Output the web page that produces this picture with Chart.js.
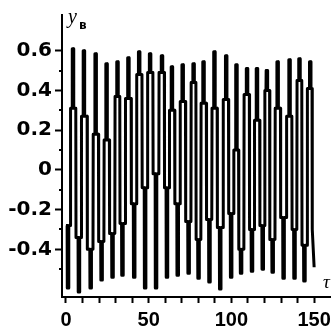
<!DOCTYPE html>
<html>
<head>
<meta charset="utf-8">
<script src="https://cdn.jsdelivr.net/npm/chart.js@4"></script>
<style>
  html, body { margin: 0; padding: 0; background: #fff; }
  #wrap { width: 336px; height: 331px; }
</style>
</head>
<body>
<div id="wrap"><canvas id="plot"></canvas></div>
<script>
// times (tau) and levels
const peakT = [4.2, 10.8, 17.9, 24.5, 31.1, 37.7, 44.2, 50.8, 58.0, 64.0, 70.5, 77.1,
  83.1, 89.7, 96.8, 103.0, 109.4, 115.4, 121.4, 127.9, 135.1, 141.1, 147.6];
const peakY = [0.61, 0.60, 0.585, 0.535, 0.545, 0.565, 0.595, 0.585, 0.575, 0.52, 0.53, 0.535,
  0.545, 0.595, 0.575, 0.53, 0.51, 0.51, 0.50, 0.545, 0.555, 0.56, 0.545];
const archY = [0.31, 0.27, 0.18, 0.15, 0.37, 0.36, 0.48, 0.49, 0.49, 0.30, 0.345, 0.44,
  0.335, 0.31, 0.355, 0.10, 0.38, 0.25, 0.40, 0.31, 0.27, 0.45, 0.41];
const botT = [1.2, 7.8, 14.9, 21.5, 28.1, 34.1, 41.2, 47.8, 54.4, 61.0, 67.5, 74.1,
  80.1, 86.7, 93.2, 99.8, 105.8, 112.4, 118.9, 124.9, 131.5, 138.1, 144.1, 150.0];
const botY = [-0.595, -0.615, -0.595, -0.555, -0.54, -0.53, -0.54, -0.595, -0.595, -0.54, -0.53, -0.52,
  -0.545, -0.565, -0.6, -0.54, -0.52, -0.51, -0.5, -0.515, -0.545, -0.545, -0.56, -0.49];
const troughY = [-0.28, -0.34, -0.40, -0.36, -0.32, -0.27, -0.17, -0.09, -0.02, -0.09, -0.17, -0.26,
  -0.35, -0.25, -0.29, -0.22, -0.40, -0.30, -0.28, -0.35, -0.24, -0.30, -0.38, -0.30];

const xTicks = [0, 10, 20, 30, 40, 50, 60, 70, 80, 90, 100, 110, 120, 130, 140, 150];
const xLabels = [0, 50, 100, 150];
const yTicks = [-0.5, -0.4, -0.3, -0.2, -0.1, 0, 0.1, 0.2, 0.3, 0.4, 0.5, 0.6];
const yLabels = [-0.4, -0.2, 0, 0.2, 0.4, 0.6];

// curve: down spike out of the trough level, up stroke, shoulder, up spike, down stroke
const pts = [{x: 0, y: troughY[0]}];
for (let i = 0; i < botT.length; i++) {
  const tb = botT[i];
  if (i === botT.length - 1) {
    pts.push({x: tb, y: botY[i]});
    break;
  }
  pts.push({x: tb - 0.5, y: troughY[i]});
  pts.push({x: tb - 0.4, y: botY[i]});
  pts.push({x: tb + 0.4, y: botY[i]});
  pts.push({x: tb + 0.5, y: troughY[i]});
  const tp = peakT[i];
  const up = (tb + tp) / 2, down = (tp + botT[i + 1]) / 2;
  pts.push({x: up - 0.07, y: troughY[i]});
  pts.push({x: up + 0.07, y: archY[i]});
  pts.push({x: tp - 0.5, y: archY[i]});
  pts.push({x: tp - 0.4, y: peakY[i]});
  pts.push({x: tp + 0.4, y: peakY[i]});
  pts.push({x: tp + 0.5, y: archY[i]});
  pts.push({x: down - 0.07, y: archY[i]});
  pts.push({x: down + 0.07, y: troughY[i + 1]});
}

const near = (a, b) => Math.abs(a - b) < 1e-6;

// y_в at the top of the vertical axis, tau at the end of the horizontal one
const axisNames = {
  id: 'axisNames',
  afterDraw(chart) {
    const c = chart.ctx;
    c.save();
    c.fillStyle = '#000';
    c.textBaseline = 'alphabetic';
    c.font = "italic 20px 'Liberation Serif', serif";
    c.fillText('y', 68, 23);
    c.font = "bold 12px 'DejaVu Sans', sans-serif";
    c.fillText('в', 79, 29);
    c.font = "italic 19px 'Liberation Serif', serif";
    c.fillText('τ', 323, 288);
    c.restore();
  }
};

const minorTicks = {
  id: 'minorTicks',
  afterDraw(chart) {
    const y = chart.scales.y, c = chart.ctx;
    c.save();
    c.strokeStyle = '#000';
    c.lineWidth = 2;
    yTicks.filter(v => !yLabels.some(l => near(l, v))).forEach(v => {
      const py = Math.round(y.getPixelForValue(v));
      c.beginPath();
      c.moveTo(y.right - 3, py);
      c.lineTo(y.right, py);
      c.stroke();
    });
    c.restore();
  }
};

new Chart(document.getElementById('plot'), {
  type: 'line',
  data: {
    datasets: [{
      data: pts,
      borderColor: '#000',
      borderWidth: 3,
      borderJoinStyle: 'round',
      pointRadius: 0,
      tension: 0,
      fill: false
    }]
  },
  options: {
    responsive: true,
    maintainAspectRatio: false,
    animation: false,
    layout: {padding: {top: 13, right: 3, left: 0, bottom: 0}},
    plugins: {legend: {display: false}, tooltip: {enabled: false}},
    scales: {
      x: {
        type: 'linear',
        min: -2.4,
        max: 159.6,
        afterBuildTicks: s => { s.ticks = xTicks.map(v => ({value: v})); },
        afterFit: s => { s.height = 34; },
        grid: {drawOnChartArea: false, tickLength: 6, tickWidth: 2, tickColor: '#000'},
        border: {color: '#000', width: 2},
        ticks: {
          color: '#000',
          font: {family: "'Liberation Sans', Arial, sans-serif", size: 20, weight: 'bold'},
          padding: 5,
          maxRotation: 0,
          autoSkip: false,
          callback: v => xLabels.some(l => near(l, v)) ? String(v) : ''
        }
      },
      y: {
        type: 'linear',
        min: -0.64,
        max: 0.78,
        afterBuildTicks: s => { s.ticks = yTicks.map(v => ({value: v})); },
        afterFit: s => { s.width = 62; },
        grid: {
          drawOnChartArea: false,
          tickLength: 7,
          tickWidth: 2,
          tickColor: c => yLabels.some(l => near(l, c.tick.value)) ? '#000' : 'rgba(0,0,0,0)'
        },
        border: {color: '#000', width: 2},
        ticks: {
          color: '#000',
          font: {family: "'DejaVu Sans', sans-serif", size: 20, weight: 'bold'},
          padding: 3,
          autoSkip: false,
          callback: v => {
            const l = yLabels.find(l => near(l, v));
            return l === undefined ? '' : String(l);
          }
        }
      }
    }
  },
  plugins: [axisNames, minorTicks]
});
</script>
</body>
</html>
